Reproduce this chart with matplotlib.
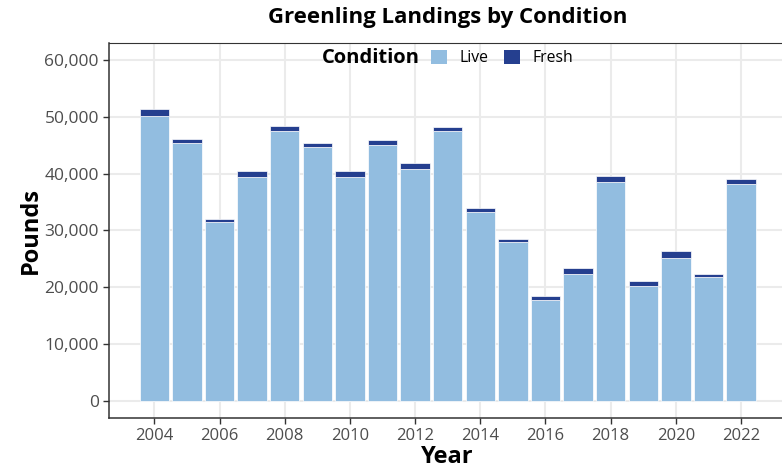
import matplotlib
matplotlib.use("Agg")
import matplotlib.pyplot as plt
from matplotlib.patches import Patch
from matplotlib.ticker import FuncFormatter

years = list(range(2004, 2023))
# live part and total (live + fresh), in pounds
live = [50100, 45450, 31450, 39400, 47550, 44650, 39400, 45000, 40850, 47550,
        33300, 28000, 17700, 22400, 38450, 20250, 25100, 21850, 38200]
total = [51300, 46050, 32000, 40400, 48450, 45450, 40400, 45850, 41850, 48250,
         33950, 28500, 18500, 23350, 39600, 21200, 26400, 22300, 39000]
fresh = [t - l for t, l in zip(total, live)]

LIVE_COL = "#92bde0"
FRESH_COL = "#253f8f"

plt.rcParams["font.family"] = ["Open Sans", "DejaVu Sans"]

fig = plt.figure(figsize=(7.82, 4.75), dpi=100)
W, H = 782, 475
ax = fig.add_axes([108.7 / W, 1 - 418 / H, (786.7 - 108.7) / W, (418 - 43) / H])

ax.bar(years, live, width=0.9, color=LIVE_COL, edgecolor="white", linewidth=0.5, zorder=2)
ax.bar(years, fresh, bottom=live, width=0.9, color=FRESH_COL, edgecolor="white",
       linewidth=0.5, zorder=2)

ax.set_xlim(2002.6, 2023.4)
ax.set_ylim(-3000, 63000)
ax.set_xticks(range(2004, 2023, 2))
ax.set_yticks(range(0, 60001, 10000))
ax.yaxis.set_major_formatter(FuncFormatter(lambda v, _: f"{int(v):,}"))
ax.grid(True, color="#ebebeb", linewidth=1.5, zorder=0)
ax.set_axisbelow(True)

for s in ax.spines.values():
    s.set_color("#333333")
    s.set_linewidth(0.8)
ax.spines["left"].set_linewidth(1.1)
ax.spines["bottom"].set_linewidth(1.1)
ax.tick_params(axis="both", length=4, width=1, color="#333333",
               labelcolor="#4d4d4d", labelsize=12, pad=3)
ax.tick_params(axis="y", labelsize=12.5)

ax.set_xlabel("Year", fontsize=17, fontweight="bold", labelpad=1)
ax.set_ylabel("Pounds", fontsize=17, fontweight="bold", labelpad=1)
fig.text(447.7 / W, 1 - 18 / H, "Greenling Landings by Condition", ha="center",
         va="center", fontsize=16, fontweight="bold")

# legend: title on the left, entries in one row
handles = [Patch(facecolor=LIVE_COL, label="Live"), Patch(facecolor=FRESH_COL, label="Fresh")]
ax.legend(handles=handles, ncol=2, loc="center left",
          bbox_to_anchor=(431 / W, 1 - 58 / H), bbox_transform=fig.transFigure,
          frameon=False, fontsize=11.3, handlelength=1.0, handleheight=1.0,
          handletextpad=0.8, columnspacing=1.0, borderaxespad=0, borderpad=0)
fig.text(420 / W, 1 - 58 / H, "Condition", ha="right", va="center",
         fontsize=14.5, fontweight="bold")

fig.savefig("out.png", dpi=100)
